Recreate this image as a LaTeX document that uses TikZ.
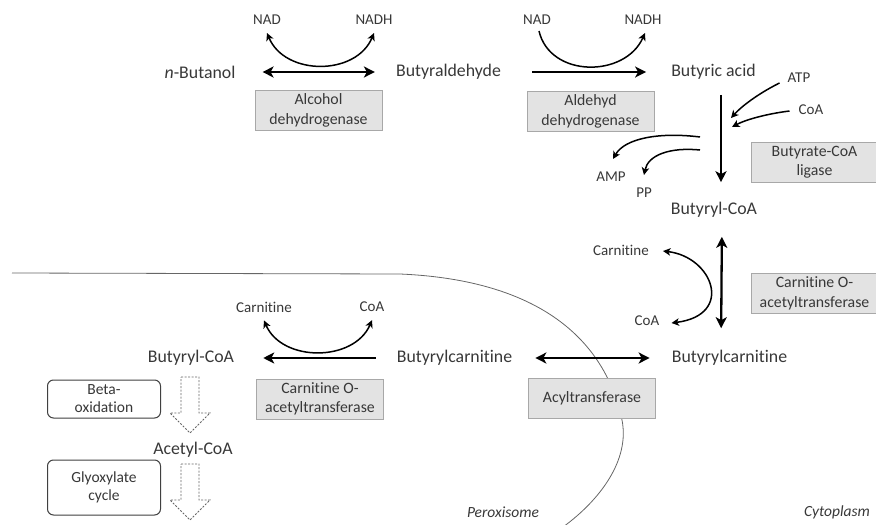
\documentclass[tikz,border=0pt]{standalone}
\usepackage{fontspec}
\setmainfont{Carlito}[Ligatures=NoCommon]
\usepackage{tikz}
\usetikzlibrary{arrows.meta,positioning,calc}
\definecolor{txt}{HTML}{383838}
\definecolor{enzfill}{HTML}{E3E3E3}
\definecolor{enzline}{HTML}{A8A8A8}

\begin{document}
\begin{tikzpicture}[x=1pt,y=-1pt,
    met/.style={text=txt,font=\fontsize{17.8}{20}\selectfont,inner sep=0},
    cof/.style={text=txt,font=\fontsize{15}{18}\selectfont,inner sep=0},
    enz/.style={draw=enzline,fill=enzfill,text=txt,font=\fontsize{15.8}{19.5}\selectfont,
        align=center,minimum width=127,minimum height=40,inner sep=0},
    proc/.style={draw=black!75,line width=1pt,fill=white,rounded corners=6,text=txt,
        font=\fontsize{15.5}{18}\selectfont,align=center,minimum width=113,inner sep=0},
    loc/.style={text=txt,font=\fontsize{15.5}{18}\selectfont\itshape,inner sep=0},
    react/.style={line width=2.3pt,-{Stealth[length=11pt,width=11pt,inset=3pt]}},
    react2/.style={line width=2.3pt,
        {Stealth[length=11pt,width=11pt,inset=3pt]}-{Stealth[length=11pt,width=11pt,inset=3pt]}},
    cofarr/.style={line width=1.5pt,-{Stealth[length=7.5pt,width=7.5pt,inset=2pt]}},
    cofarr2/.style={line width=1.5pt,
        {Stealth[length=7.5pt,width=7.5pt,inset=2pt]}-{Stealth[length=7.5pt,width=7.5pt,inset=2pt]}},
    blockdown/.pic={\draw[black!60,line width=0.8pt,dash pattern=on 2pt off 1.5pt]
        (-9,0) -- (9,0) -- (9,36) -- (20,36) -- (0,56) -- (-20,36) -- (-9,36) -- cycle;}]
    \useasboundingbox (0,0) rectangle (876,525);
    % membrane
    \draw[black!60,line width=0.8pt] (12,273) -- (400,274)
        .. controls (540,280) and (605,340) .. (622,420)
        .. controls (630,460) and (600,500) .. (563,527);
    % metabolites
    \node[met] (butanol) at (200,72) {\textit{n}-Butanol};
    \node[met] (butyraldehyde) at (448.5,72) {Butyraldehyde};
    \node[met] (butyric) at (713.5,72) {Butyric acid};
    \node[met] (butyrylcoa) at (714,210) {Butyryl-CoA};
    \node[met] (bcarnR) at (729.5,358) {Butyrylcarnitine};
    \node[met] (bcarnL) at (454.5,358) {Butyrylcarnitine};
    \node[met] (butyrylcoaL) at (191,358) {Butyryl-CoA};
    \node[met] (acetylcoa) at (193,450) {Acetyl-CoA};
    % cofactors
    \node[cof] (nad1) at (267,20) {NAD};
    \node[cof] (nadh1) at (374,20) {NADH};
    \node[cof] (nad2) at (537,20) {NAD};
    \node[cof] (nadh2) at (643,20) {NADH};
    \node[cof] (atp) at (799,78) {ATP};
    \node[cof] (coa1) at (811,110) {CoA};
    \node[cof] (amp) at (611,177) {AMP};
    \node[cof] (pp) at (644,193) {PP};
    \node[cof] (carnR) at (621,250) {Carnitine};
    \node[cof] (coaR) at (647,321) {CoA};
    \node[cof] (carnL) at (264,307) {Carnitine};
    \node[cof] (coaL) at (372,307) {CoA};
    % enzymes
    \node[enz] (adh) at (318.5,110.5) {Alcohol\\dehydrogenase};
    \node[enz] (aldh) at (590.5,111.5) {Aldehyd\\dehydrogenase};
    \node[enz] (ligase) at (814.5,162) {Butyrate-CoA\\ligase};
    \node[enz] (cotR) at (814.5,293.5) {Carnitine O-\\acetyltransferase};
    \node[enz] (acyl) at (592,398.5) {Acyltransferase};
    \node[enz] (cotL) at (320,399) {Carnitine O-\\acetyltransferase};
    % processes
    \node[proc,minimum height=38] (beta) at (104,399) {Beta-\\oxidation};
    \node[proc,minimum height=55] (glyox) at (104,487.5) {Glyoxylate\\cycle};
    \pic at (190,377) {blockdown};
    \pic at (190,464) {blockdown};
    % compartments
    \node[loc] (perox) at (503,512) {Peroxisome};
    \node[loc] (cyto) at (837,512) {Cytoplasm};

    % reactions
    \draw[react2,shorten <=27pt,shorten >=21pt] (butanol.east) -- (butyraldehyde.west);
    \draw[react,shorten <=31pt,shorten >=25pt] (butyraldehyde.east) -- (butyric.west);
    \draw[react,shorten <=15pt,shorten >=20pt]
        ([xshift=7.5pt]butyric.south) -- ([xshift=7pt]butyrylcoa.north);
    \draw[react2,shorten <=19pt,shorten >=22pt]
        ([xshift=8pt]butyrylcoa.south) -- ([xshift=-8.5pt]bcarnR.north);
    \draw[react2,shorten <=23pt,shorten >=22pt] (bcarnL.east) -- (bcarnR.west);
    \draw[react,shorten <=21pt,shorten >=29pt] (bcarnL.west) -- (butyrylcoaL.east);

    % cofactor curves
    \draw[cofarr2] ([yshift=-8pt]nad1.south)
        .. controls +(18,43) and +(-18,43) .. ([yshift=-8pt]nadh1.south);
    \draw[cofarr] ([xshift=2pt,yshift=-6pt]nad2.south)
        .. controls +(11,47) and +(-20,45) .. ([xshift=2pt,yshift=-8pt]nadh2.south);
    \draw[cofarr] ([xshift=-8pt,yshift=-5pt]atp.west)
        .. controls +(-24,12) and +(9,-10) .. (731,118);
    \draw[cofarr] ([xshift=-9pt,yshift=-1pt]coa1.west)
        .. controls +(-24,3) and +(13,-7) .. (732,127);
    \coordinate (ampstart) at (700,137);
    \coordinate (ppstart) at (700,150);
    \draw[cofarr] (ampstart) .. controls (660,132) and (625,138) .. ([xshift=2pt,yshift=13pt]amp.north);
    \draw[cofarr] (ppstart) .. controls (670,147) and (648,155) .. ([yshift=13pt]pp.north);
    \draw[cofarr2] ([xshift=14pt,yshift=-1pt]carnR.east)
        .. controls +(50,6) and +(63,-8) .. ([xshift=12pt,yshift=-2pt]coaR.east);
    \draw[cofarr2] ([yshift=-8pt]carnL.south)
        .. controls +(18,42) and +(-18,42) .. ([yshift=-8pt]coaL.south);
\end{tikzpicture}
\end{document}
